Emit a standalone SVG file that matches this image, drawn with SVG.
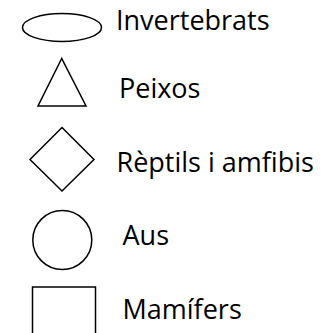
<svg xmlns="http://www.w3.org/2000/svg" width="324" height="333" viewBox="0 0 324 333">
<style>
.s{fill:#fff;stroke:#000;stroke-width:1.5}
.t{font-family:"Open Sans","Liberation Sans",sans-serif;font-size:27px;fill:#000}
</style>
<rect width="324" height="333" fill="#fff"/>
<g id="invertebrats">
<ellipse class="s" cx="62" cy="27.5" rx="39.5" ry="14"/>
<text class="t" x="116" y="30">Invertebrats</text>
</g>
<g id="peixos">
<polygon class="s" points="61.7,58.5 38,106 86,106"/>
<text class="t" x="119" y="98">Peixos</text>
</g>
<g id="reptils">
<polygon class="s" points="62,127.5 94,159.5 62,191 30,159.5"/>
<text class="t" x="116.5" y="171.5">Rèptils i amfibis</text>
</g>
<g id="aus">
<circle class="s" cx="62.3" cy="240" r="29.5"/>
<text class="t" x="122.5" y="245">Aus</text>
</g>
<g id="mamifers">
<rect class="s" x="32.5" y="287" width="63" height="60"/>
<text class="t" x="122.5" y="318.5">Mamífers</text>
</g>
<g id="connectors"/>
</svg>
